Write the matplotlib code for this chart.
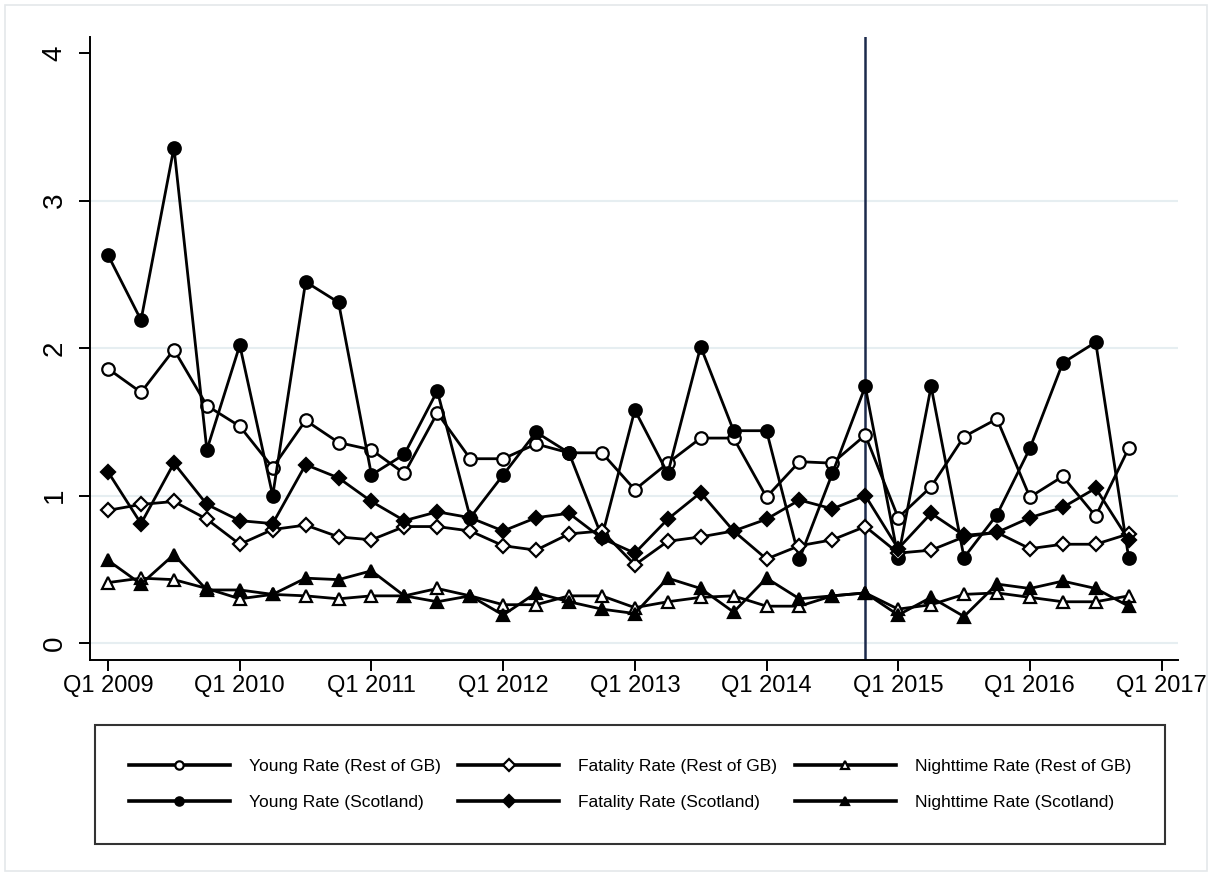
import matplotlib
matplotlib.use('Agg')
import matplotlib.pyplot as plt
from matplotlib.patches import Rectangle

# quarters Q1 2009 .. Q4 2016
quarters = [f'Q{q} {y}' for y in range(2009, 2017) for q in range(1, 5)]

young_gb = [1.86, 1.70, 1.99, 1.61,
            1.47, 1.19, 1.51, 1.36,
            1.31, 1.15, 1.56, 1.25,
            1.25, 1.35, 1.29, 1.29,
            1.04, 1.22, 1.39, 1.39,
            0.99, 1.23, 1.22, 1.41,
            0.85, 1.06, 1.40, 1.52,
            0.99, 1.13, 0.86, 1.32]
young_sc = [2.63, 2.19, 3.36, 1.31,
            2.02, 1.00, 2.45, 2.31,
            1.14, 1.28, 1.71, 0.85,
            1.14, 1.43, 1.29, 0.72,
            1.58, 1.15, 2.01, 1.44,
            1.44, 0.57, 1.15, 1.74,
            0.58, 1.74, 0.58, 0.87,
            1.32, 1.90, 2.04, 0.58]
fatal_gb = [0.90, 0.94, 0.96, 0.84,
            0.67, 0.77, 0.80, 0.72,
            0.70, 0.79, 0.79, 0.76,
            0.66, 0.63, 0.74, 0.76,
            0.53, 0.69, 0.72, 0.76,
            0.57, 0.66, 0.70, 0.79,
            0.61, 0.63, 0.72, 0.75,
            0.64, 0.67, 0.67, 0.74]
fatal_sc = [1.16, 0.81, 1.22, 0.94,
            0.83, 0.81, 1.21, 1.12,
            0.96, 0.83, 0.89, 0.85,
            0.76, 0.85, 0.88, 0.71,
            0.61, 0.84, 1.02, 0.76,
            0.84, 0.97, 0.91, 1.00,
            0.64, 0.88, 0.73, 0.75,
            0.85, 0.92, 1.05, 0.70]
night_gb = [0.41, 0.44, 0.43, 0.37,
            0.30, 0.33, 0.32, 0.30,
            0.32, 0.32, 0.37, 0.32,
            0.26, 0.26, 0.32, 0.32,
            0.24, 0.28, 0.31, 0.32,
            0.25, 0.25, 0.32, 0.34,
            0.23, 0.26, 0.33, 0.34,
            0.31, 0.28, 0.28, 0.32]
night_sc = [0.56, 0.40, 0.60, 0.36,
            0.36, 0.33, 0.44, 0.43,
            0.49, 0.32, 0.28, 0.32,
            0.19, 0.34, 0.28, 0.23,
            0.20, 0.44, 0.37, 0.21,
            0.44, 0.30, 0.32, 0.34,
            0.19, 0.31, 0.18, 0.40,
            0.37, 0.42, 0.37, 0.25]

policy_quarter = 'Q4 2014'
tick_labels = [f'Q1 {y}' for y in range(2009, 2018)]

plt.rcParams['font.family'] = ['Liberation Sans', 'DejaVu Sans']

x = list(range(len(quarters)))

fig = plt.figure(figsize=(12.12, 8.76), dpi=100)
ax = fig.add_axes([90 / 1212, 1 - 660 / 876, (1178 - 90) / 1212, (660 - 37) / 876])

series = [
    (young_gb, 'o', 'white', 'Young Rate (Rest of GB)'),
    (young_sc, 'o', 'black', 'Young Rate (Scotland)'),
    (fatal_gb, 'D', 'white', 'Fatality Rate (Rest of GB)'),
    (fatal_sc, 'D', 'black', 'Fatality Rate (Scotland)'),
    (night_gb, '^', 'white', 'Nighttime Rate (Rest of GB)'),
    (night_sc, '^', 'black', 'Nighttime Rate (Scotland)'),
]

handles = []
for vals, m, face, lab in series:
    ms = 7.5 if m == 'D' else 9
    h, = ax.plot(x, vals, color='black', lw=2.0, marker=m, markersize=ms,
                 markerfacecolor=face, markeredgecolor='black', markeredgewidth=1.6,
                 label=lab, zorder=3)
    handles.append(h)

ax.axvline(quarters.index(policy_quarter), color='#1c2a4c', lw=1.8, zorder=2)

ax.set_xlim(-0.55, 32.5)
ax.set_ylim(-0.115, 4.11)
ax.set_yticks([0, 1, 2, 3, 4])
ax.set_xticks(range(0, 33, 4))
ax.set_xticklabels(tick_labels, fontsize=17)
ax.set_yticklabels(['0', '1', '2', '3', '4'], fontsize=20, rotation=90, va='center')
for v in [0, 1, 2, 3]:
    ax.axhline(v, color='#e6eef1', lw=1.5, zorder=0)

for s in ['top', 'right']:
    ax.spines[s].set_visible(False)
for s in ['left', 'bottom']:
    ax.spines[s].set_linewidth(1.4)
ax.tick_params(axis='both', direction='out', length=8, width=1.4, colors='black')
ax.tick_params(axis='x', pad=3)
ax.tick_params(axis='y', pad=8)

leg = fig.legend(handles=handles, loc='center', ncol=3, mode='expand',
                 bbox_to_anchor=(95 / 1212, 34 / 876, 1070 / 1212, 115 / 876),
                 prop={'size': 12.5},
                 frameon=True, fancybox=False, edgecolor='black',
                 handlelength=5.8, handletextpad=1.1, labelspacing=1.2,
                 borderpad=1.95, borderaxespad=0)
leg.get_frame().set_linewidth(1.5)
for h in leg.legend_handles:
    h.set_markersize(6)
    h.set_linewidth(2.6)

# light border around the whole graph region
fig.patches.append(Rectangle((5 / 1212, 5 / 876), 1202 / 1212, 866 / 876,
                             transform=fig.transFigure, fill=False,
                             edgecolor='#e4e8ea', lw=1.2))

fig.savefig('out.png', dpi=100)
